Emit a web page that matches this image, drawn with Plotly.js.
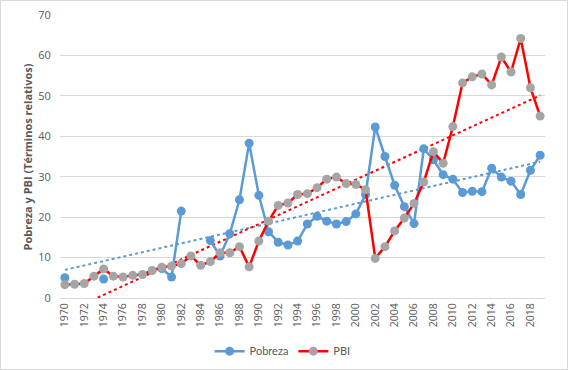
<!DOCTYPE html>
<html>
<head>
<meta charset="utf-8">
<script src="https://cdn.plot.ly/plotly-3.0.1.min.js"></script>
<style>
html,body{margin:0;padding:0;background:#fff;}
#wrap{position:relative;width:568px;height:370px;}
#chart{width:568px;height:370px;}
#frame{position:absolute;left:0;top:0;width:568px;height:370px;box-sizing:border-box;border:1px solid #D9D9D9;pointer-events:none;}
</style>
</head>
<body>
<div id="wrap"><div id="chart"></div><div id="frame"></div></div>
<script>
const years = [];
for (let y = 1970; y <= 2019; y++) years.push(y);

const pobreza = [
  5.0, null, null, null, 4.7, null, null, null, null, null,
  7.3, 5.2, 21.5, null, null, 14.2, 10.4, 15.9, 24.3, 38.3,
  25.4, 16.4, 13.8, 13.1, 14.1, 18.3, 20.2, 19.0, 18.3, 18.9,
  20.8, 25.6, 42.3, 35.0, 27.9, 22.6, 18.4, 36.9, 34.2, 30.5,
  29.4, 26.1, 26.4, 26.3, 32.1, 29.9, 28.9, 25.6, 31.6, 35.3
];
const pbi = [
  3.3, 3.4, 3.6, 5.4, 7.2, 5.4, 5.2, 5.6, 5.8, 6.8,
  7.6, 7.9, 8.5, 10.4, 8.1, 9.0, 11.2, 11.2, 12.7, 7.7,
  14.1, 19.0, 22.9, 23.5, 25.6, 25.8, 27.3, 29.4, 29.9, 28.3,
  28.1, 26.8, 9.8, 12.7, 16.6, 19.8, 23.4, 28.7, 36.2, 33.3,
  42.4, 53.2, 54.7, 55.4, 52.7, 59.6, 55.9, 64.2, 52.0, 45.0
];
const tickYears = years.filter(y => y % 2 === 0);
const yTitle = 'Pobreza y PBI (Términos relativos)';

function linfit(xs, ys) {
  const px = [], py = [];
  xs.forEach((x, i) => { if (ys[i] !== null) { px.push(x); py.push(ys[i]); } });
  const n = px.length;
  const mx = px.reduce((a, b) => a + b, 0) / n;
  const my = py.reduce((a, b) => a + b, 0) / n;
  let sxy = 0, sxx = 0;
  for (let i = 0; i < n; i++) { sxy += (px[i] - mx) * (py[i] - my); sxx += (px[i] - mx) ** 2; }
  const b = sxy / sxx, a = my - b * mx;
  return xs.map(x => a + b * x);
}

const blue = '#5B9BD5', red = '#FF0000', gray = '#A5A5A5';

const traces = [
  {x: years, y: linfit(years, pobreza), mode: 'lines', line: {color: blue, width: 2, dash: 'dot'}, showlegend: false, hoverinfo: 'skip'},
  {x: years, y: linfit(years, pbi), mode: 'lines', line: {color: red, width: 2, dash: 'dot'}, showlegend: false, hoverinfo: 'skip'},
  {x: years, y: pobreza, name: 'Pobreza', mode: 'lines+markers', connectgaps: false,
   line: {color: blue, width: 2.5}, marker: {color: blue, size: 9}},
  {x: years, y: pbi, name: 'PBI', mode: 'lines+markers',
   line: {color: red, width: 2.5}, marker: {color: gray, size: 9}}
];

const layout = {
  width: 568, height: 370,
  margin: {l: 60, r: 23, t: 15, b: 72},
  paper_bgcolor: '#fff', plot_bgcolor: '#fff',
  font: {family: 'Open Sans, Liberation Sans, sans-serif', color: '#595959', size: 11},
  xaxis: {
    range: [1969.5, 2019.5], tickvals: tickYears, ticktext: tickYears.map(String),
    tickangle: -90, showgrid: false, zeroline: false,
    showline: true, linecolor: '#D9D9D9', linewidth: 1,
    tickfont: {size: 10.5, color: '#595959'}, ticks: '', automargin: false
  },
  yaxis: {
    range: [0, 70], dtick: 10, showgrid: true, gridcolor: '#D9D9D9', gridwidth: 1,
    zeroline: false, showline: false, ticks: 'outside', ticklen: 6, tickcolor: 'rgba(0,0,0,0)',
    tickfont: {size: 11, color: '#595959'}, automargin: false
  },
  annotations: [{
    text: yTitle, xref: 'paper', yref: 'paper', x: -0.066, y: 0.5,
    xanchor: 'center', yanchor: 'middle', textangle: -90, showarrow: false,
    font: {size: 11, color: '#595959', weight: 'bold'}
  }],
  legend: {orientation: 'h', x: 0.459, xanchor: 'center', yref: 'container', y: 0.051, yanchor: 'middle',
           font: {size: 11, color: '#595959', family: 'Lato, Open Sans, sans-serif'}, itemwidth: 30},
  showlegend: true
};

Plotly.newPlot('chart', traces, layout, {displayModeBar: false, staticPlot: true});
</script>
</body>
</html>
